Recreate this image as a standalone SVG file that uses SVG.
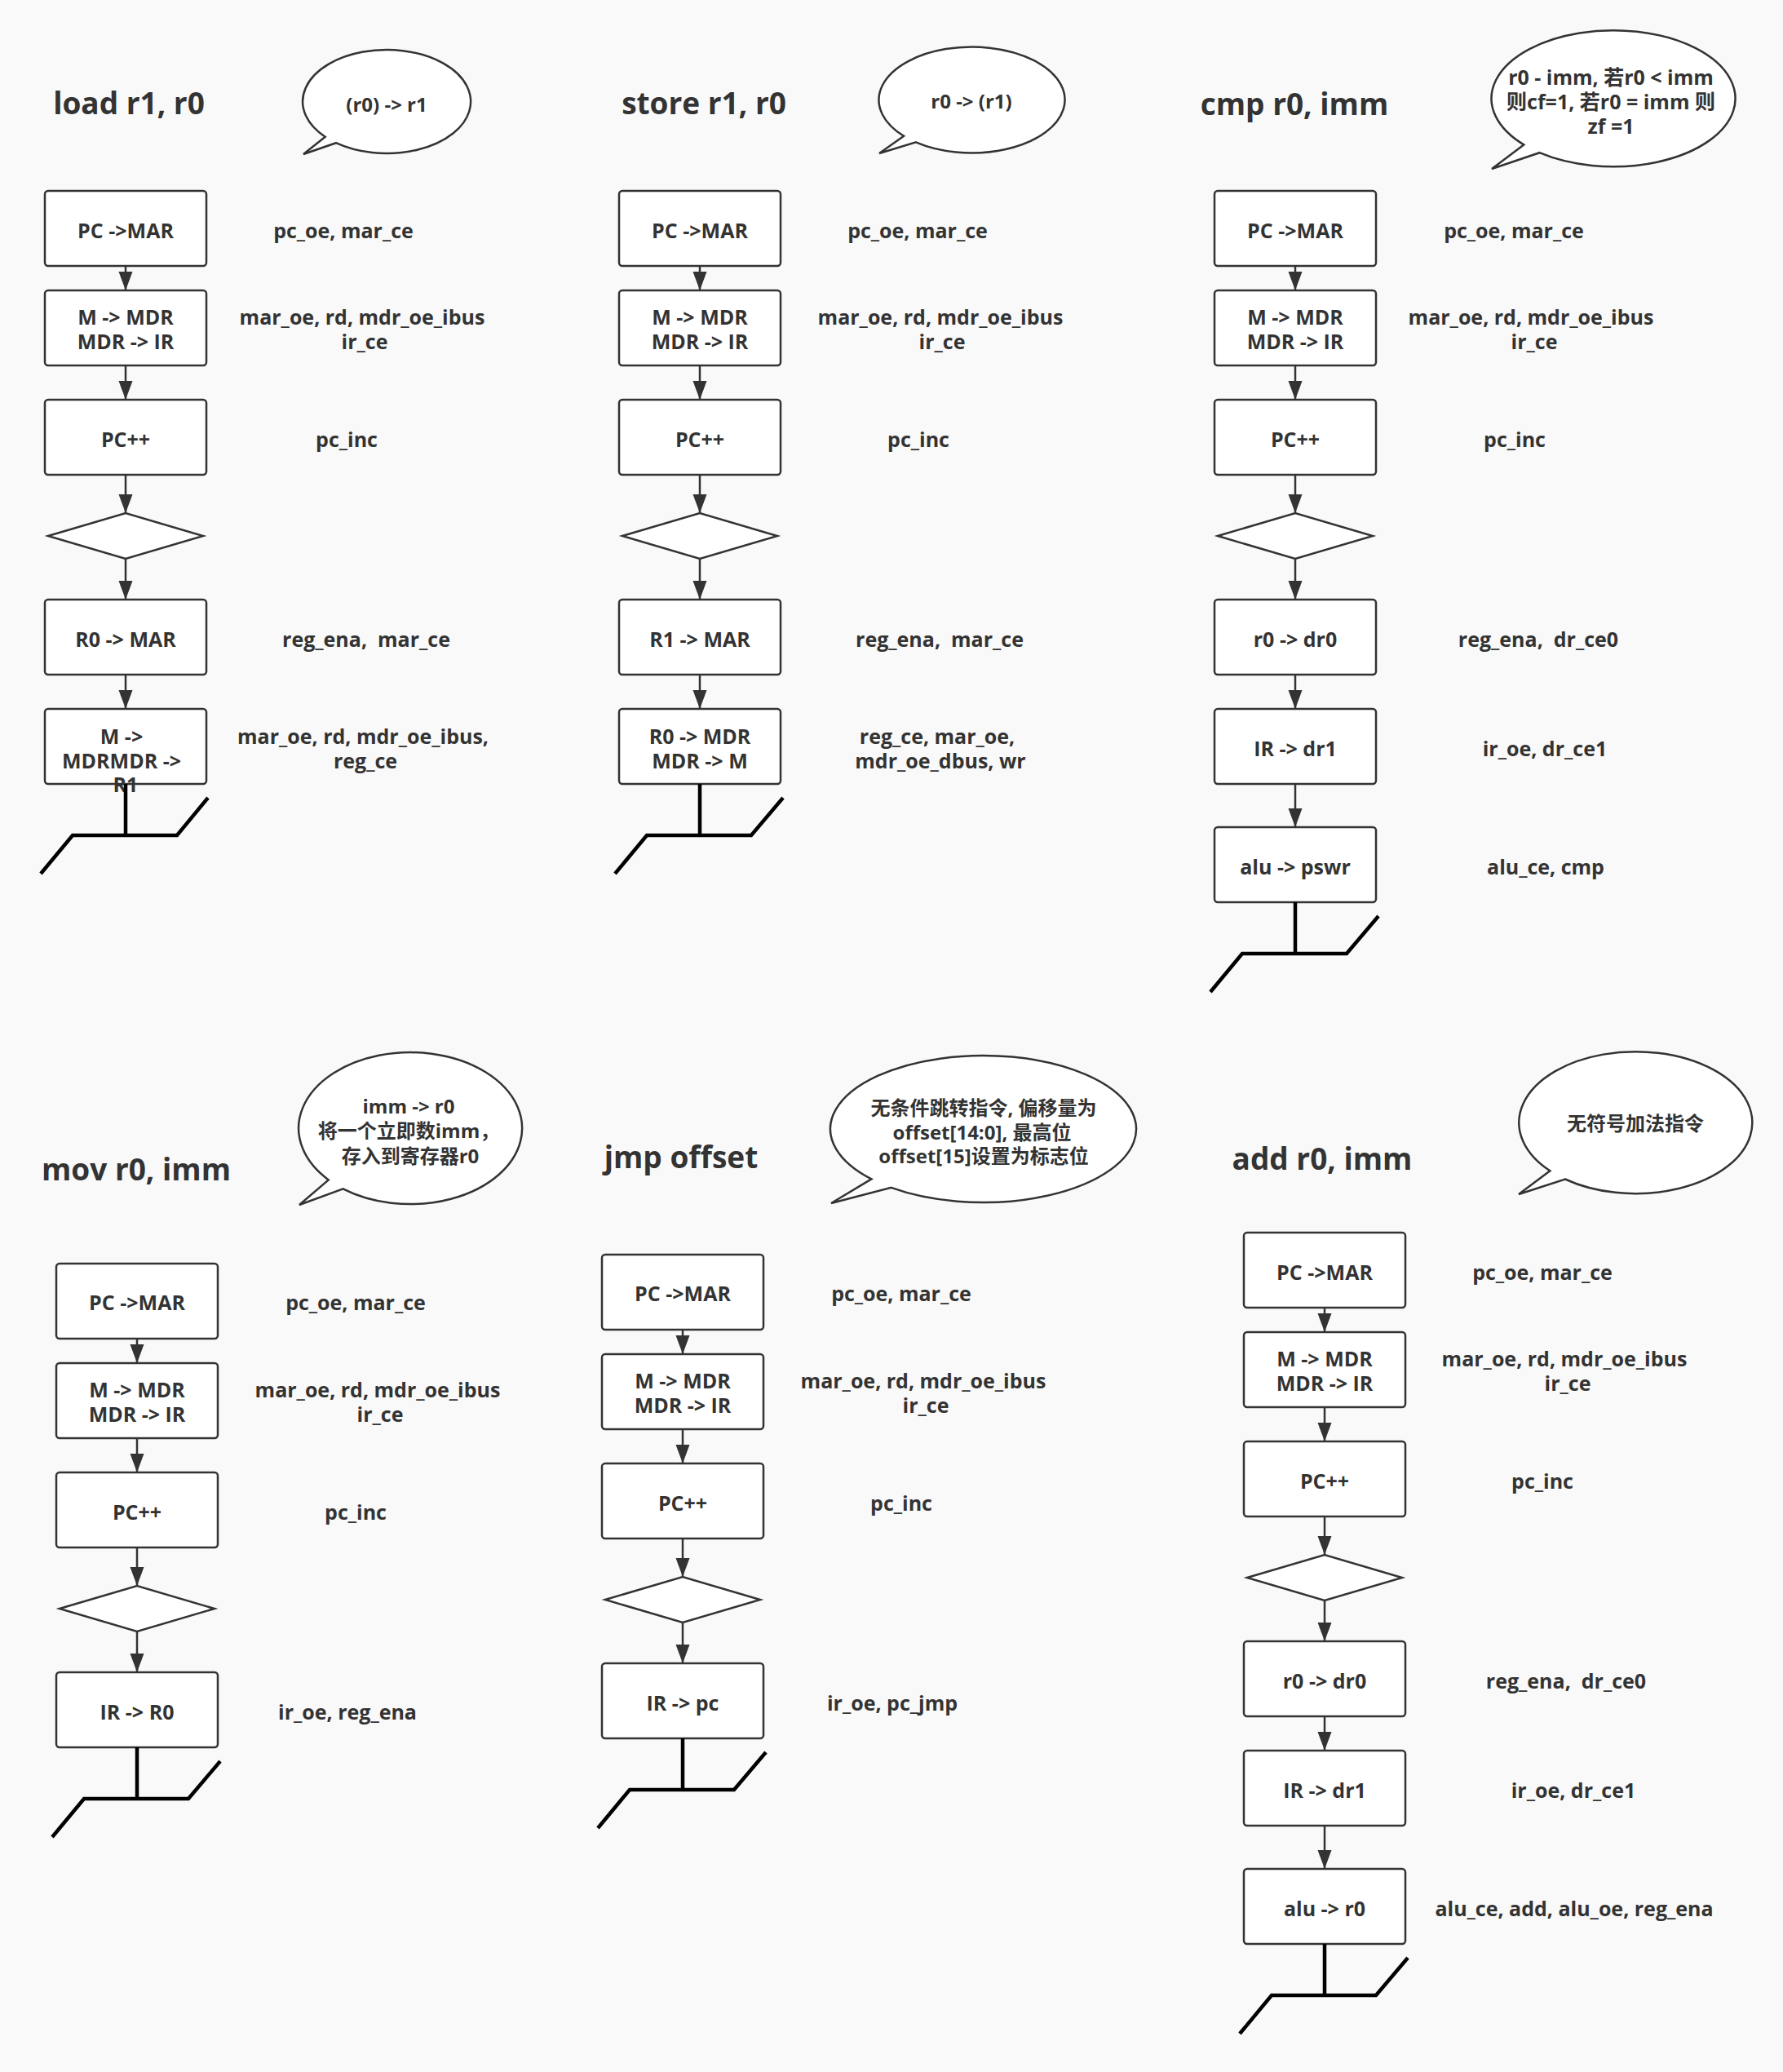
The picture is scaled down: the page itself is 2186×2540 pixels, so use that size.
<svg xmlns="http://www.w3.org/2000/svg" width="2186" height="2540" viewBox="0 0 2186 2540">
<defs>
<marker id="ah" markerUnits="userSpaceOnUse" markerWidth="24" markerHeight="18" refX="23" refY="8.5" orient="auto" viewBox="0 0 24 18">
<path d="M0,0 L23,8.5 L0,17 Z" fill="#333"/>
</marker>
</defs>
<style>
.box,.dia,.bub{fill:#fff;stroke:#333;stroke-width:2.5}
.conn{stroke:#333;stroke-width:2.5;fill:none;marker-end:url(#ah)}
.gnd{stroke:#000;stroke-width:4.5;fill:none}
text{font-family:"Open Sans","Noto Sans CJK SC",sans-serif;font-weight:700;fill:#333;font-size:25px;text-anchor:middle;white-space:pre}
.title{font-size:37px}
.cjk{font-size:24px}
</style>
<rect x="0" y="0" width="2186" height="2540" fill="#f9f9f9"/>

<!-- ===== load r1, r0 ===== -->
<g id="load-title"><text class="title" x="158" y="140">load r1, r0</text></g>
<g id="load-bubble"><path class="bub" d="M398.7,167.8 L372,189 L412,175.2 A103,63.5 0 1 0 398.7,167.8 Z"/><text class="cjk" x="474" y="137">(r0) -&gt; r1</text></g>
<g id="load-n1"><rect class="box" x="55" y="234" width="198" height="92" rx="4"/><text x="154" y="292">PC -&gt;MAR</text></g>
<g id="load-n2"><rect class="box" x="55" y="356" width="198" height="92" rx="4"/><text x="154" y="398">M -&gt; MDR</text><text x="154" y="428">MDR -&gt; IR</text></g>
<g id="load-n3"><rect class="box" x="55" y="490" width="198" height="92" rx="4"/><text x="154" y="548">PC++</text></g>
<g id="load-d"><polygon class="dia" points="59,657 154,629 249,657 154,685"/></g>
<g id="load-n4"><rect class="box" x="55" y="735" width="198" height="92" rx="4"/><text x="154" y="793">R0 -&gt; MAR</text></g>
<g id="load-n5"><rect class="box" x="55" y="869" width="198" height="92" rx="4"/><text x="149" y="912">M -&gt;</text><text x="149" y="942">MDRMDR -&gt;</text><text x="154" y="971">R1</text></g>
<g id="load-end"><path class="gnd" d="M154,961 V1024 M50,1071 L89,1024 H217 L255,978"/></g>
<g id="load-labels">
<text x="421" y="292">pc_oe, mar_ce</text>
<text x="444" y="398">mar_oe, rd, mdr_oe_ibus</text><text x="447" y="428">ir_ce</text>
<text x="425" y="548">pc_inc</text>
<text x="449" y="793">reg_ena,  mar_ce</text>
<text x="445" y="912">mar_oe, rd, mdr_oe_ibus,</text><text x="448" y="942">reg_ce</text>
</g>

<!-- ===== store r1, r0 ===== -->
<g id="store-title"><text class="title" x="863" y="140">store r1, r0</text></g>
<g id="store-bubble"><path class="bub" d="M1108.1,166.8 L1078,188 L1122.9,174.4 A114,65 0 1 0 1108.1,166.8 Z"/><text class="cjk" x="1191" y="133">r0 -&gt; (r1)</text></g>
<g id="store-n1"><rect class="box" x="759" y="234" width="198" height="92" rx="4"/><text x="858" y="292">PC -&gt;MAR</text></g>
<g id="store-n2"><rect class="box" x="759" y="356" width="198" height="92" rx="4"/><text x="858" y="398">M -&gt; MDR</text><text x="858" y="428">MDR -&gt; IR</text></g>
<g id="store-n3"><rect class="box" x="759" y="490" width="198" height="92" rx="4"/><text x="858" y="548">PC++</text></g>
<g id="store-d"><polygon class="dia" points="763,657 858,629 953,657 858,685"/></g>
<g id="store-n4"><rect class="box" x="759" y="735" width="198" height="92" rx="4"/><text x="858" y="793">R1 -&gt; MAR</text></g>
<g id="store-n5"><rect class="box" x="759" y="869" width="198" height="92" rx="4"/><text x="858" y="912">R0 -&gt; MDR</text><text x="858" y="942">MDR -&gt; M</text></g>
<g id="store-end"><path class="gnd" d="M858,961 V1024 M754,1071 L793,1024 H921 L960,978"/></g>
<g id="store-labels">
<text x="1125" y="292">pc_oe, mar_ce</text>
<text x="1153" y="398">mar_oe, rd, mdr_oe_ibus</text><text x="1155" y="428">ir_ce</text>
<text x="1126" y="548">pc_inc</text>
<text x="1152" y="793">reg_ena,  mar_ce</text>
<text x="1149" y="912">reg_ce, mar_oe,</text><text x="1153" y="942">mdr_oe_dbus, wr</text>
</g>

<!-- ===== cmp r0, imm ===== -->
<g id="cmp-title"><text class="title" x="1587" y="141">cmp r0, imm</text></g>
<g id="cmp-bubble"><path class="bub" d="M1868.2,177.4 L1829,207 L1887.5,187.2 A149.5,83.5 0 1 0 1868.2,177.4 Z"/><text x="1975" y="104">r0 - imm, 若r0 &lt; imm</text><text x="1975" y="134">则cf=1, 若r0 = imm 则</text><text x="1975" y="164">zf =1</text></g>
<g id="cmp-n1"><rect class="box" x="1489" y="234" width="198" height="92" rx="4"/><text x="1588" y="292">PC -&gt;MAR</text></g>
<g id="cmp-n2"><rect class="box" x="1489" y="356" width="198" height="92" rx="4"/><text x="1588" y="398">M -&gt; MDR</text><text x="1588" y="428">MDR -&gt; IR</text></g>
<g id="cmp-n3"><rect class="box" x="1489" y="490" width="198" height="92" rx="4"/><text x="1588" y="548">PC++</text></g>
<g id="cmp-d"><polygon class="dia" points="1493,657 1588,629 1683,657 1588,685"/></g>
<g id="cmp-n4"><rect class="box" x="1489" y="735" width="198" height="92" rx="4"/><text x="1588" y="793">r0 -&gt; dr0</text></g>
<g id="cmp-n5"><rect class="box" x="1489" y="869" width="198" height="92" rx="4"/><text x="1588" y="927">IR -&gt; dr1</text></g>
<g id="cmp-n6"><rect class="box" x="1489" y="1014" width="198" height="92" rx="4"/><text x="1588" y="1072">alu -&gt; pswr</text></g>
<g id="cmp-end"><path class="gnd" d="M1588,1106 V1169 M1484,1216 L1523,1169 H1651 L1690,1123"/></g>
<g id="cmp-labels">
<text x="1856" y="292">pc_oe, mar_ce</text>
<text x="1877" y="398">mar_oe, rd, mdr_oe_ibus</text><text x="1881" y="428">ir_ce</text>
<text x="1857" y="548">pc_inc</text>
<text x="1886" y="793">reg_ena,  dr_ce0</text>
<text x="1894" y="927">ir_oe, dr_ce1</text>
<text x="1895" y="1072">alu_ce, cmp</text>
</g>

<!-- ===== mov r0, imm ===== -->
<g id="mov-title"><text class="title" x="167" y="1447">mov r0, imm</text></g>
<g id="mov-bubble"><path class="bub" d="M402.8,1446.4 L367,1477 L420.6,1457.3 A137,93 0 1 0 402.8,1446.4 Z"/><text class="cjk" x="501" y="1365">imm -&gt; r0</text><text class="cjk" x="501" y="1395">将一个立即数imm，</text><text class="cjk" x="503" y="1426">存入到寄存器r0</text></g>
<g id="mov-n1"><rect class="box" x="69" y="1549" width="198" height="92" rx="4"/><text x="168" y="1606">PC -&gt;MAR</text></g>
<g id="mov-n2"><rect class="box" x="69" y="1671" width="198" height="92" rx="4"/><text x="168" y="1713">M -&gt; MDR</text><text x="168" y="1743">MDR -&gt; IR</text></g>
<g id="mov-n3"><rect class="box" x="69" y="1805" width="198" height="92" rx="4"/><text x="168" y="1863">PC++</text></g>
<g id="mov-d"><polygon class="dia" points="73,1972 168,1944 263,1972 168,2000"/></g>
<g id="mov-n4"><rect class="box" x="69" y="2050" width="198" height="92" rx="4"/><text x="168" y="2108">IR -&gt; R0</text></g>
<g id="mov-end"><path class="gnd" d="M168,2142 V2205 M64,2252 L103,2205 H231 L270,2159"/></g>
<g id="mov-labels">
<text x="436" y="1606">pc_oe, mar_ce</text>
<text x="463" y="1713">mar_oe, rd, mdr_oe_ibus</text><text x="466" y="1743">ir_ce</text>
<text x="436" y="1863">pc_inc</text>
<text x="426" y="2108">ir_oe, reg_ena</text>
</g>

<!-- ===== jmp offset ===== -->
<g id="jmp-title"><text class="title" x="835" y="1432">jmp offset</text></g>
<g id="jmp-bubble"><path class="bub" d="M1068.4,1445.4 L1019,1475 L1092.7,1455.9 A187.5,90 0 1 0 1068.4,1445.4 Z"/><text class="cjk" x="1206" y="1367">无条件跳转指令, 偏移量为</text><text class="cjk" x="1204" y="1397">offset[14:0], 最高位</text><text class="cjk" x="1206" y="1426">offset[15]设置为标志位</text></g>
<g id="jmp-n1"><rect class="box" x="738" y="1538" width="198" height="92" rx="4"/><text x="837" y="1595">PC -&gt;MAR</text></g>
<g id="jmp-n2"><rect class="box" x="738" y="1660" width="198" height="92" rx="4"/><text x="837" y="1702">M -&gt; MDR</text><text x="837" y="1732">MDR -&gt; IR</text></g>
<g id="jmp-n3"><rect class="box" x="738" y="1794" width="198" height="92" rx="4"/><text x="837" y="1852">PC++</text></g>
<g id="jmp-d"><polygon class="dia" points="742,1961 837,1933 932,1961 837,1989"/></g>
<g id="jmp-n4"><rect class="box" x="738" y="2039" width="198" height="92" rx="4"/><text x="837" y="2097">IR -&gt; pc</text></g>
<g id="jmp-end"><path class="gnd" d="M837,2131 V2194 M733,2241 L772,2194 H900 L939,2148"/></g>
<g id="jmp-labels">
<text x="1105" y="1595">pc_oe, mar_ce</text>
<text x="1132" y="1702">mar_oe, rd, mdr_oe_ibus</text><text x="1135" y="1732">ir_ce</text>
<text x="1105" y="1852">pc_inc</text>
<text x="1094" y="2097">ir_oe, pc_jmp</text>
</g>

<!-- ===== add r0, imm ===== -->
<g id="add-title"><text class="title" x="1621" y="1434">add r0, imm</text></g>
<g id="add-bubble"><path class="bub" d="M1900.4,1435.3 L1862,1464 L1918.9,1445.5 A143,87 0 1 0 1900.4,1435.3 Z"/><text class="cjk" x="2005" y="1386">无符号加法指令</text></g>
<g id="add-n1"><rect class="box" x="1525" y="1511" width="198" height="92" rx="4"/><text x="1624" y="1569">PC -&gt;MAR</text></g>
<g id="add-n2"><rect class="box" x="1525" y="1633" width="198" height="92" rx="4"/><text x="1624" y="1675">M -&gt; MDR</text><text x="1624" y="1705">MDR -&gt; IR</text></g>
<g id="add-n3"><rect class="box" x="1525" y="1767" width="198" height="92" rx="4"/><text x="1624" y="1825">PC++</text></g>
<g id="add-d"><polygon class="dia" points="1529,1934 1624,1906 1719,1934 1624,1962"/></g>
<g id="add-n4"><rect class="box" x="1525" y="2012" width="198" height="92" rx="4"/><text x="1624" y="2070">r0 -&gt; dr0</text></g>
<g id="add-n5"><rect class="box" x="1525" y="2146" width="198" height="92" rx="4"/><text x="1624" y="2204">IR -&gt; dr1</text></g>
<g id="add-n6"><rect class="box" x="1525" y="2291" width="198" height="92" rx="4"/><text x="1624" y="2349">alu -&gt; r0</text></g>
<g id="add-end"><path class="gnd" d="M1624,2383 V2446 M1520,2493 L1559,2446 H1687 L1726,2400"/></g>
<g id="add-labels">
<text x="1891" y="1569">pc_oe, mar_ce</text>
<text x="1918" y="1675">mar_oe, rd, mdr_oe_ibus</text><text x="1922" y="1705">ir_ce</text>
<text x="1891" y="1825">pc_inc</text>
<text x="1920" y="2070">reg_ena,  dr_ce0</text>
<text x="1929" y="2204">ir_oe, dr_ce1</text>
<text x="1930" y="2349">alu_ce, add, alu_oe, reg_ena</text>
</g>

<!-- ===== connectors ===== -->
<g id="connectors">
<line class="conn" x1="154" y1="326" x2="154" y2="356"/>
<line class="conn" x1="154" y1="448" x2="154" y2="490"/>
<line class="conn" x1="154" y1="582" x2="154" y2="629"/>
<line class="conn" x1="154" y1="685" x2="154" y2="735"/>
<line class="conn" x1="154" y1="827" x2="154" y2="869"/>

<line class="conn" x1="858" y1="326" x2="858" y2="356"/>
<line class="conn" x1="858" y1="448" x2="858" y2="490"/>
<line class="conn" x1="858" y1="582" x2="858" y2="629"/>
<line class="conn" x1="858" y1="685" x2="858" y2="735"/>
<line class="conn" x1="858" y1="827" x2="858" y2="869"/>

<line class="conn" x1="1588" y1="326" x2="1588" y2="356"/>
<line class="conn" x1="1588" y1="448" x2="1588" y2="490"/>
<line class="conn" x1="1588" y1="582" x2="1588" y2="629"/>
<line class="conn" x1="1588" y1="685" x2="1588" y2="735"/>
<line class="conn" x1="1588" y1="827" x2="1588" y2="869"/>
<line class="conn" x1="1588" y1="961" x2="1588" y2="1014"/>

<line class="conn" x1="168" y1="1641" x2="168" y2="1671"/>
<line class="conn" x1="168" y1="1763" x2="168" y2="1805"/>
<line class="conn" x1="168" y1="1897" x2="168" y2="1944"/>
<line class="conn" x1="168" y1="2000" x2="168" y2="2050"/>

<line class="conn" x1="837" y1="1630" x2="837" y2="1660"/>
<line class="conn" x1="837" y1="1752" x2="837" y2="1794"/>
<line class="conn" x1="837" y1="1886" x2="837" y2="1933"/>
<line class="conn" x1="837" y1="1989" x2="837" y2="2039"/>

<line class="conn" x1="1624" y1="1603" x2="1624" y2="1633"/>
<line class="conn" x1="1624" y1="1725" x2="1624" y2="1767"/>
<line class="conn" x1="1624" y1="1859" x2="1624" y2="1906"/>
<line class="conn" x1="1624" y1="1962" x2="1624" y2="2012"/>
<line class="conn" x1="1624" y1="2104" x2="1624" y2="2146"/>
<line class="conn" x1="1624" y1="2238" x2="1624" y2="2291"/>
</g>
</svg>
